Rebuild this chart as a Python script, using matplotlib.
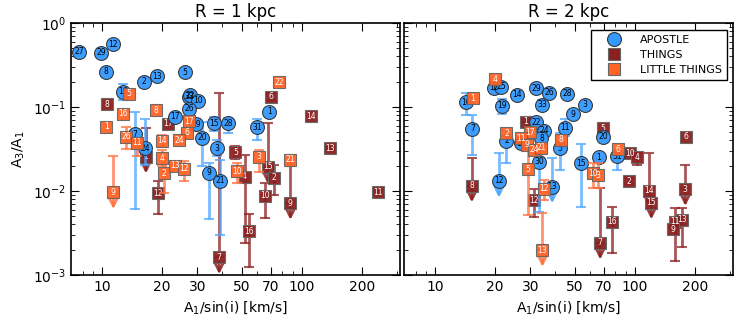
import numpy as np
import matplotlib
matplotlib.use("Agg")
import matplotlib.pyplot as plt
from matplotlib.ticker import FixedLocator, NullFormatter, FixedFormatter

nan = np.nan

# ---------------- R = 1 kpc ----------------
# APOSTLE
apo1_id = [27, 29, 12, 8, 2, 13, 5, 16, 33, 22, 10, 26, 17, 7, 24, 19, 20, 15, 28, 3, 9, 21, 31, 1]
apo1_x = [7.7, 9.9, 11.3, 10.5, 16.2, 18.9, 25.9, 12.7, 27.2, 27.7, 30.2, 27.4, 23.2, 14.6, 16.5, 29.6, 31.7, 36.2, 42.9, 37.6, 34.2, 38.9, 60.0, 68.9]
apo1_y = [0.452, 0.440, 0.557, 0.263, 0.199, 0.232, 0.261, 0.152, 0.132, 0.138, 0.119, 0.0948, 0.0767, 0.0473, 0.0322, 0.0627, 0.0431, 0.0639, 0.0639, 0.0322, 0.0165, 0.0132, 0.0573, 0.0873]
apo1_lo = [0.421, 0.407, nan, nan, nan, nan, nan, 0.121, nan, nan, nan, nan, 0.0694, 0.0061, 0.0204, 0.0528, 0.0199, 0.0516, 0.0493, 0.0263, 0.00464, 0.0030, 0.0405, nan]
apo1_hi = [0.474, 0.468, nan, nan, nan, nan, nan, 0.187, nan, nan, nan, nan, 0.0851, 0.0873, 0.0719, 0.0718, 0.067, 0.0754, 0.0742, 0.040, 0.0215, 0.0234, 0.0719, nan]
apo1_lim = [0] * 24

# THINGS
thi1_id = [8, 17, 6, 14, 13, 5, 1, 12, 4, 16, 15, 10, 2, 9, 7, 11]
thi1_x = [10.6, 21.3, 70.2, 111.6, 139.0, 46.5, 16.6, 19.0, 51.7, 54.4, 67.5, 65.8, 72.4, 87.7, 38.6, 241.0]
thi1_y = [0.1076, 0.0633, 0.132, 0.0772, 0.0322, 0.0289, 0.0256, 0.0094, 0.0147, 0.00331, 0.0194, 0.00873, 0.0144, 0.00717, 0.00162, 0.00965]
thi1_lo = [nan, nan, 0.121, nan, 0.0308, 0.0241, nan, 0.00532, 0.0024, 0.00125, nan, 0.00477, 0.00897, nan, nan, 0.00905]
thi1_hi = [nan, nan, 0.147, nan, 0.0337, 0.0342, 0.0558, 0.0132, 0.0269, 0.00532, 0.0639, 0.0124, 0.0204, 0.0210, 0.147, 0.0103]
thi1_lim = [0, 0, 0, 0, 0, 0, 1, 0, 0, 0, 1, 0, 0, 1, 1, 0]

# LITTLE THINGS
lit1_id = [22, 5, 16, 8, 1, 17, 6, 24, 14, 26, 11, 4, 2, 13, 12, 9, 3, 10, 21]
lit1_x = [77.0, 13.7, 12.7, 18.6, 10.5, 27.2, 26.6, 24.3, 19.9, 13.2, 14.9, 20.0, 20.5, 23.1, 25.7, 11.4, 61.2, 47.5, 87.7]
lit1_y = [0.197, 0.144, 0.0832, 0.0921, 0.0582, 0.0681, 0.0491, 0.0401, 0.0394, 0.0443, 0.0376, 0.0247, 0.0162, 0.0199, 0.0183, 0.00965, 0.0256, 0.0173, 0.0234]
lit1_lo = [nan, nan, nan, nan, nan, nan, nan, nan, 0.0334, 0.0316, 0.0261, 0.0196, 0.00947, 0.0178, 0.0132, nan, 0.0168, 0.0124, 0.0196]
lit1_hi = [nan, nan, nan, nan, nan, nan, nan, nan, 0.0464, 0.0582, 0.0431, 0.0308, 0.0247, 0.0222, 0.0230, 0.0263, 0.0308, 0.0215, 0.0269]
lit1_lim = [0] * 15 + [1, 0, 0, 0]

# ---------------- R = 2 kpc ----------------
apo2_id = [12, 25, 16, 19, 14, 29, 26, 28, 33, 3, 9, 22, 24, 11, 7, 2, 17, 8, 5, 30, 15, 12, 13, 1, 31, 20]
apo2_x = [19.8, 21.4, 14.3, 21.6, 25.6, 32.2, 37.3, 45.9, 34.5, 56.4, 48.9, 32.2, 35.1, 44.7, 15.4, 22.8, 27.0, 34.1, 42.2, 33.1, 53.7, 20.9, 38.6, 66.0, 81.8, 69.4]
apo2_y = [0.169, 0.1745, 0.114, 0.103, 0.139, 0.167, 0.148, 0.143, 0.106, 0.106, 0.0825, 0.0657, 0.0518, 0.0567, 0.0552, 0.0394, 0.0371, 0.0424, 0.0322, 0.0223, 0.0214, 0.0132, 0.0113, 0.0252, 0.0261, 0.0443]
apo2_lo = [0.157, nan, 0.0804, 0.0825, nan, nan, nan, nan, 0.0921, nan, nan, 0.0575, nan, 0.0452, 0.0269, 0.0215, nan, nan, 0.0178, 0.00567, 0.0065, nan, nan, nan, 0.0178, nan]
apo2_hi = [0.185, nan, 0.148, 0.124, nan, nan, nan, nan, 0.121, nan, nan, 0.0718, nan, 0.0719, 0.0804, 0.0528, nan, nan, 0.0485, 0.0308, 0.0363, 0.0283, 0.0247, nan, 0.0289, nan]
apo2_lim = [0] * 21 + [1, 1, 0, 0, 0]

thi2_id = [1, 8, 12, 5, 6, 10, 4, 2, 14, 15, 3, 16, 7, 11, 13, 9]
thi2_x = [28.4, 15.3, 31.3, 69.4, 181.0, 95.1, 102.2, 93.7, 117.8, 121.0, 179.0, 77.3, 67.1, 159.0, 172.5, 156.0]
thi2_y = [0.0668, 0.0116, 0.00781, 0.0558, 0.0443, 0.0281, 0.0252, 0.0131, 0.0101, 0.00727, 0.0105, 0.00431, 0.00242, 0.00431, 0.00452, 0.0035]
thi2_lo = [nan, nan, 0.00491, nan, nan, nan, 0.0204, 0.0122, nan, nan, nan, 0.00183, nan, 0.00147, 0.00215, nan]
thi2_hi = [0.0719, 0.0247, 0.0105, nan, nan, nan, 0.0281, 0.0143, 0.0281, nan, 0.0204, 0.0065, 0.0108, 0.00625, 0.00635, nan]
thi2_lim = [0, 1, 0, 0, 0, 0, 0, 0, 1, 1, 1, 0, 1, 0, 0, 0]

lit2_id = [4, 1, 2, 17, 11, 9, 24, 21, 8, 5, 12, 13, 10, 3, 6]
lit2_x = [19.9, 15.5, 22.8, 29.8, 26.8, 28.8, 31.3, 34.1, 42.9, 29.1, 35.0, 34.5, 61.9, 65.5, 82.8]
lit2_y = [0.214, 0.127, 0.0486, 0.0500, 0.0424, 0.0353, 0.0308, 0.0328, 0.0405, 0.0181, 0.0107, 0.00198, 0.0162, 0.0153, 0.0314]
lit2_lo = [nan, nan, nan, nan, nan, nan, nan, nan, nan, 0.00517, 0.00781, nan, 0.0108, 0.0108, nan]
lit2_hi = [nan, nan, nan, nan, nan, nan, nan, nan, nan, 0.0308, 0.0135, 0.00547, 0.0215, 0.0215, nan]
lit2_lim = [0] * 11 + [1, 0, 0, 0]

xticks = [10, 20, 30, 50, 70, 100, 200]
blue = '#3399ff'
dred = '#8b2020'
orng = '#ff6326'


def draw(ax, ids, x, y, lo, hi, lim, marker, col, ecol, txtcol, ms, z):
    x = np.array(x); y = np.array(y)
    lo = np.array(lo); hi = np.array(hi)
    lo_err = np.where(np.isnan(lo), 0, y - np.nan_to_num(lo))
    hi_err = np.where(np.isnan(hi), 0, np.nan_to_num(hi) - y)
    has = ~(np.isnan(lo) & np.isnan(hi))
    ax.errorbar(x[has], y[has], yerr=[lo_err[has], hi_err[has]], fmt='none',
                ecolor=ecol, elinewidth=2, capsize=3.5, capthick=1.5, alpha=0.75, zorder=z)
    # upper limits: arrow pointing down
    for i in range(len(ids)):
        if lim[i]:
            ax.annotate('', xy=(x[i], y[i] * 10 ** -0.2), xytext=(x[i], y[i]),
                        arrowprops=dict(arrowstyle='->', color=ecol, lw=2,
                                        mutation_scale=14, alpha=0.85, shrinkA=0, shrinkB=0),
                        zorder=z)
    ax.plot(x, y, marker, ls='none', ms=ms, mfc=col,
            mec=('#333333' if marker == 'o' else '#666666'),
            mew=0.8, alpha=0.95, zorder=z + 1)
    for i, n in enumerate(ids):
        ax.text(x[i], y[i], str(n), fontsize=5.5, color=txtcol, ha='center', va='center',
                zorder=z + 2)


fig = plt.figure(figsize=(7.47, 3.32), dpi=100)
ax1 = fig.add_axes([71 / 747, 57 / 332, 329 / 747, 252 / 332])
ax2 = fig.add_axes([404 / 747, 57 / 332, 329 / 747, 252 / 332])

panels = [
    (ax1, 'R = 1 kpc',
     [(thi1_id, thi1_x, thi1_y, thi1_lo, thi1_hi, thi1_lim),
      (apo1_id, apo1_x, apo1_y, apo1_lo, apo1_hi, apo1_lim),
      (lit1_id, lit1_x, lit1_y, lit1_lo, lit1_hi, lit1_lim)]),
    (ax2, 'R = 2 kpc',
     [(thi2_id, thi2_x, thi2_y, thi2_lo, thi2_hi, thi2_lim),
      (apo2_id, apo2_x, apo2_y, apo2_lo, apo2_hi, apo2_lim),
      (lit2_id, lit2_x, lit2_y, lit2_lo, lit2_hi, lit2_lim)]),
]

styles = [('s', dred, dred, 'white', 8.5, 3),
          ('o', blue, '#4da6ff', 'black', 10, 6),
          ('s', orng, '#ff7040', 'white', 8.5, 9)]

for ax, title, groups in panels:
    for data, (mk, col, ecol, tc, ms, z) in zip(groups, styles):
        draw(ax, *data, mk, col, ecol, tc, ms, z)
    ax.set_xscale('log')
    ax.set_yscale('log')
    ax.set_xlim(7, 310)
    ax.set_ylim(1e-3, 1)
    ax.xaxis.set_major_locator(FixedLocator(xticks))
    ax.xaxis.set_major_formatter(FixedFormatter([str(t) for t in xticks]))
    ax.xaxis.set_minor_locator(FixedLocator([8, 9, 40, 60, 80, 90, 300]))
    ax.xaxis.set_minor_formatter(NullFormatter())
    ax.tick_params(which='both', direction='in', top=True, right=True, labelsize=10)
    ax.tick_params(which='major', length=6, width=0.8)
    ax.tick_params(which='minor', length=3, width=0.6)
    ax.set_title(title, fontsize=12, pad=4)
    ax.set_xlabel('A$_1$/sin(i) [km/s]', fontsize=10)
    for s in ax.spines.values():
        s.set_linewidth(1.2)

ax1.set_ylabel('A$_3$/A$_1$', fontsize=10)
ax2.tick_params(labelleft=False)

# legend
h1, = ax2.plot([], [], 'o', ms=10, mfc=blue, mec='#333333', mew=0.8)
h2, = ax2.plot([], [], 's', ms=9, mfc=dred, mec='#666666', mew=0.8)
h3, = ax2.plot([], [], 's', ms=9, mfc=orng, mec='#666666', mew=0.8)
leg = ax2.legend([h1, h2, h3], ['APOSTLE', 'THINGS', 'LITTLE THINGS'], loc='upper right',
                 fontsize=8, fancybox=False, edgecolor='black', framealpha=1,
                 borderpad=0.45, labelspacing=0.45, handlelength=3.2, handletextpad=0.77,
                 borderaxespad=0, bbox_to_anchor=(0.982, 0.972))
leg.get_frame().set_linewidth(1.0)

fig.savefig('out.png', dpi=100)
